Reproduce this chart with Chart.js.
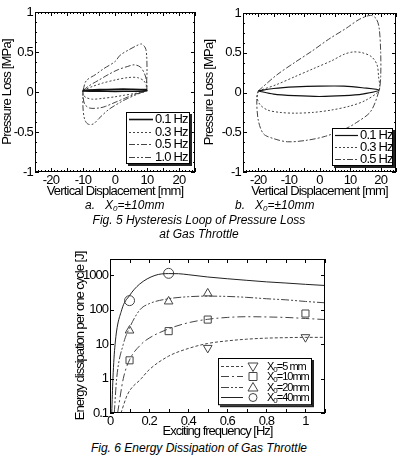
<!DOCTYPE html>
<html>
<head>
<meta charset="utf-8">
<script src="https://cdn.jsdelivr.net/npm/chart.js@4.4.1/dist/chart.umd.min.js"></script>
<style>
  body { margin: 0; width: 398px; height: 466px; background: #fff; position: relative; overflow: hidden; }
  canvas { position: absolute; }
  .cap { position: absolute; font: italic 12px "Liberation Sans", Arial, sans-serif; color: #000; white-space: nowrap; line-height: 14px; }
  .cap sub { font-size: 8px; vertical-align: -2px; line-height: 0; }
  .mid { left: 0; width: 398px; text-align: center; }
</style>
</head>
<body>
<canvas id="fig5a" width="199" height="200" style="left:0;top:0"></canvas>
<canvas id="fig5b" width="199" height="200" style="left:199px;top:0"></canvas>
<div class="cap" style="left:85px;top:198px">a.&nbsp;&nbsp;&nbsp;X<sub>0</sub>=±10mm</div>
<div class="cap" style="left:235px;top:198px">b.&nbsp;&nbsp;&nbsp;X<sub>0</sub>=±10mm</div>
<div class="cap mid" style="top:213px">Fig. 5 Hysteresis Loop of Pressure Loss</div>
<div class="cap mid" style="top:227px">at Gas Throttle</div>
<canvas id="fig6" width="330" height="200" style="left:40px;top:240px"></canvas>
<div class="cap mid" style="top:441px">Fig. 6 Energy Dissipation of Gas Throttle</div>
<script>
// ---- Fig. 5 a : X0 = +-10 mm ----
const aLabels = ['0.1 Hz', '0.3 Hz', '0.5 Hz', '1.0 Hz'];
const a01X = [-10, -5, 0, 5, 9.5, 10, 9.5, 5, 0, -5, -10, -10];
const a01Y = [0.02, 0.03, 0.035, 0.035, 0.03, 0.02, 0.012, 0.01, 0.008, 0.01, 0.012, 0.02];
const a03X = [-10, -7, -4, 0, 4, 7, 9, 10, 9.5, 6, 3, 0, -4, -7, -9, -10, -10];
const a03Y = [0.02, 0.07, 0.11, 0.15, 0.18, 0.18, 0.14, 0.06, 0.01, -0.02, -0.04, -0.06, -0.08, -0.09, -0.07, -0.03, 0.02];
const a05X = [-10, -8, -5, -2, 1, 4, 6, 8, 9.5, 10, 9.5, 6, 3, 0, -3, -5, -8, -9.5, -10, -10];
const a05Y = [0.02, 0.08, 0.15, 0.22, 0.28, 0.32, 0.34, 0.31, 0.2, 0.08, 0.01, -0.03, -0.08, -0.13, -0.18, -0.2, -0.2, -0.15, -0.05, 0.02];
const a10X = [-10, -9, -6, -3.6, 0, 1.6, 4, 6.8, 8.3, 9.5, 9.9, 10, 9.8, 9.5, 6.8, 4, 1.6, -2, -5, -6.8, -8.5, -9.5, -10, -10, -10];
const a10Y = [0.02, 0.14, 0.22, 0.29, 0.38, 0.46, 0.52, 0.58, 0.6, 0.55, 0.45, 0.25, 0.08, 0.02, -0.03, -0.08, -0.13, -0.22, -0.33, -0.4, -0.4, -0.34, -0.2, -0.05, 0.02];

// ---- Fig. 5 b ----
const bLabels = ['0.1 Hz', '0.3 Hz', '0.5 Hz'];
const b01X = [-20, -15, -8, 0, 8, 14, 19.5, 14, 8, 0, -8, -15, -20];
const b01Y = [0.02, 0.05, 0.07, 0.08, 0.08, 0.06, 0.03, -0.02, -0.04, -0.05, -0.04, -0.02, 0.02];
const b03X = [-20, -14, -8, -2, 4, 8, 11, 14, 17, 18.8, 19.3, 19.5, 15, 10, 4, -2, -8, -13, -17, -19.5, -20.5, -20];
const b03Y = [0.02, 0.1, 0.2, 0.3, 0.4, 0.48, 0.51, 0.5, 0.45, 0.35, 0.2, 0.03, -0.1, -0.17, -0.22, -0.25, -0.26, -0.25, -0.22, -0.15, -0.05, 0.02];
const b05X = [-20, -14, -8, -2.5, 3, 8.8, 13, 16.7, 18.5, 19.5, 20, 20, 19.5, 16.7, 12, 8.8, 2, -4, -10.4, -15, -18.3, -20, -20.5, -20];
const b05Y = [0.02, 0.22, 0.38, 0.52, 0.67, 0.81, 0.92, 0.97, 0.93, 0.81, 0.5, 0.2, 0.03, -0.24, -0.38, -0.45, -0.55, -0.6, -0.62, -0.58, -0.52, -0.35, -0.1, 0.02];

const fig5XTicks = [-20, -10, 0, 10, 20];
const fig5YTicks = [-1, -0.5, 0, 0.5, 1];

// ---- Fig. 6 : energy dissipation ----
const fig6Labels = ['5 mm', '10mm', '20mm', '40mm'];
const fit5X = [0.056, 0.09, 0.16, 0.2, 0.3, 0.4, 0.5, 0.6, 0.7, 0.8, 0.9, 1.0, 1.1];
const fit5Y = [0.1, 0.35, 1, 1.8, 4.5, 7.5, 10.5, 12.5, 14, 15, 15.5, 15.8, 15.8];
const fit10X = [0.039, 0.068, 0.1, 0.16, 0.2, 0.3, 0.4, 0.5, 0.6, 0.7, 0.8, 0.9, 1.0, 1.1];
const fit10Y = [0.1, 1, 3.5, 10, 15, 28, 42, 53, 60, 63, 62, 60, 56, 52];
const fit20X = [0.022, 0.034, 0.068, 0.1, 0.153, 0.2, 0.3, 0.4, 0.5, 0.6, 0.7, 0.8, 0.9, 1.0, 1.1];
const fit20Y = [0.1, 1, 10, 30, 100, 150, 210, 240, 250, 245, 230, 210, 195, 175, 160];
const fit40X = [0.009, 0.015, 0.026, 0.06, 0.1, 0.15, 0.23, 0.3, 0.35, 0.4, 0.5, 0.6, 0.7, 0.8, 0.9, 1.0, 1.1];
const fit40Y = [0.1, 1, 10, 100, 260, 550, 1000, 1130, 1120, 1050, 900, 800, 720, 650, 600, 550, 510];
const meas5X = [0.5, 1];
const meas5Y = [7.8, 16];
const meas10X = [0.1, 0.3, 0.5, 1];
const meas10Y = [3.4, 24, 52, 78];
const meas20X = [0.1, 0.3, 0.5];
const meas20Y = [25, 175, 300];
const meas40X = [0.1, 0.3];
const meas40Y = [185, 1150];
const fig6XTicks = [0, 0.2, 0.4, 0.6, 0.8, 1];
const fig6YTicks = [0.1, 1, 10, 100, 1000];

const FONT = '"Liberation Sans", Arial, sans-serif';
Chart.defaults.font.family = FONT;
Chart.defaults.color = '#000';

const pts = (xs, ys) => xs.map((x, i) => ({ x: x, y: ys[i] }));

function loop(label, xs, ys, dash, width, color) {
    return {
        label: label,
        data: pts(xs, ys),
        showLine: true,
        pointRadius: 0,
        borderColor: color,
        borderWidth: width,
        borderDash: dash,
        tension: 0.3,
        fill: false
    };
}

// the scanned figure uses a condensed face, so squeeze the letters a bit
const tightText = {
    id: 'tightText',
    beforeUpdate(chart, args, o) { chart.ctx.letterSpacing = o.spacing; },
    beforeDraw(chart, args, o) { chart.ctx.letterSpacing = o.spacing; }
};

// frame + inward ticks on all four sides
const frameTicks = {
    id: 'frameTicks',
    afterDraw(chart, args, o) {
        const { ctx, chartArea: a } = chart;
        const xs = chart.scales.x, ys = chart.scales.y;
        ctx.save();
        ctx.strokeStyle = '#000';
        ctx.lineWidth = 1;
        ctx.strokeRect(Math.round(a.left) + 0.5, Math.round(a.top) + 0.5, Math.round(a.width) - 1, Math.round(a.height) - 1);
        const steps = (scale, step) => {
            if (!step) return scale.ticks.map(t => t.value);
            const out = [];
            for (let i = Math.ceil(scale.min / step - 1e-9); i * step <= scale.max + 1e-9; i++) out.push(i * step);
            return out;
        };
        const xTick = (v, len) => {
            const p = Math.round(xs.getPixelForValue(v)) + 0.5;
            ctx.beginPath();
            ctx.moveTo(p, a.bottom); ctx.lineTo(p, a.bottom - len);
            ctx.moveTo(p, a.top); ctx.lineTo(p, a.top + len);
            ctx.stroke();
        };
        const yTick = (v, len) => {
            const p = Math.round(ys.getPixelForValue(v)) + 0.5;
            ctx.beginPath();
            ctx.moveTo(a.left, p); ctx.lineTo(a.left + len, p);
            ctx.moveTo(a.right, p); ctx.lineTo(a.right - len, p);
            ctx.stroke();
        };
        if (o.xMinor) steps(xs, o.xMinor).forEach(v => xTick(v, 2));
        if (o.yMinor) steps(ys, o.yMinor).forEach(v => yTick(v, 2));
        steps(xs, o.xMajor).forEach(v => xTick(v, 4));
        steps(ys, o.yMajor).forEach(v => yTick(v, 4));
        ctx.restore();
    }
};

// legend box with shadow, drawn inside the plot
const boxLegend = {
    id: 'boxLegend',
    afterDraw(chart, args, o) {
        const { ctx, chartArea: a } = chart;
        const sets = chart.data.datasets;
        const rows = o.rows || sets.map((d, i) => [i, null]);
        const w = o.width, h = o.rowHeight * rows.length + o.padY * 2;
        const x = Math.round(a.right - o.right - w), y = Math.round(a.bottom - o.bottom - h);
        ctx.save();
        ctx.fillStyle = '#222';
        ctx.fillRect(x + 2, y + 2, w, h);
        ctx.fillStyle = '#fff';
        ctx.fillRect(x, y, w, h);
        ctx.strokeStyle = '#000';
        ctx.lineWidth = 1;
        ctx.strokeRect(x + 0.5, y + 0.5, w - 1, h - 1);
        rows.forEach((r, i) => {
            const cy = Math.round(y + o.padY + o.rowHeight * (i + 0.5)) + 0.5;
            const ds = sets[r[0]];
            ctx.setLineDash(ds.borderDash || []);
            ctx.strokeStyle = ds.borderColor;
            ctx.lineWidth = ds.borderWidth;
            ctx.beginPath();
            ctx.moveTo(x + 3, cy);
            ctx.lineTo(x + o.lineLen, cy);
            ctx.stroke();
            ctx.setLineDash([]);
            let tx = x + o.lineLen + 2;
            if (r[1] !== null) {
                const m = sets[r[1]];
                const mx = x + o.markX;
                ctx.strokeStyle = m.borderColor;
                ctx.fillStyle = '#fff';
                ctx.lineWidth = 1;
                ctx.beginPath();
                if (m.pointStyle === 'circle') {
                    ctx.arc(mx, cy, 4, 0, Math.PI * 2);
                } else if (m.pointStyle === 'rect') {
                    ctx.rect(mx - 4, cy - 4, 8, 8);
                } else {
                    const s = m.pointRotation === 180 ? -1 : 1;
                    ctx.moveTo(mx, cy - 5 * s);
                    ctx.lineTo(mx + 5, cy + 3.5 * s);
                    ctx.lineTo(mx - 5, cy + 3.5 * s);
                    ctx.closePath();
                }
                ctx.fill();
                ctx.stroke();
                tx = x + o.textX;
            }
            ctx.fillStyle = '#000';
            ctx.textBaseline = 'middle';
            ctx.font = o.fontSize + 'px ' + FONT;
            if (o.subscript) {
                ctx.fillText('X', tx, cy);
                tx += ctx.measureText('X').width;
                ctx.font = (o.fontSize - 3) + 'px ' + FONT;
                ctx.fillText('0', tx, cy + 3);
                tx += ctx.measureText('0').width;
                ctx.font = o.fontSize + 'px ' + FONT;
                ctx.fillText('=' + ds.label, tx, cy);
            } else {
                ctx.fillText(ds.label, tx, cy);
            }
        });
        ctx.restore();
    }
};

function fig5Options(yWidth, yTitlePad, legend) {
    return {
        responsive: false,
        animation: false,
        layout: { padding: legend.padding },
        plugins: {
            legend: { display: false },
            tooltip: { enabled: false },
            tightText: { spacing: '-0.8px' },
            frameTicks: { xMinor: 1, xMajor: 5, yMinor: 0.125, yMajor: 0.5 },
            boxLegend: legend.box
        },
        scales: {
            x: {
                type: 'linear', min: -25, max: 25,
                afterBuildTicks: s => { s.ticks = fig5XTicks.map(v => ({ value: v })); },
                afterFit: s => { s.height = 28; },
                grid: { display: false, drawTicks: false },
                border: { display: false },
                ticks: { font: { size: 13 }, padding: 1, maxRotation: 0, callback: v => String(v) },
                title: { display: true, text: 'Vertical Displacement [mm]', font: { size: 13 }, padding: { top: 0, bottom: 1 } }
            },
            y: {
                type: 'linear', min: -1, max: 1,
                afterBuildTicks: s => { s.ticks = fig5YTicks.map(v => ({ value: v })); },
                afterFit: s => { s.width = yWidth; },
                grid: { display: false, drawTicks: false },
                border: { display: false },
                ticks: { font: { size: 13 }, padding: 2, callback: v => String(v) },
                title: { display: true, text: 'Pressure Loss [MPa]', font: { size: 13 }, padding: { top: yTitlePad, bottom: 0 } }
            }
        }
    };
}

new Chart(document.getElementById('fig5a'), {
    type: 'scatter',
    data: {
        datasets: [
            loop(aLabels[0], a01X, a01Y, [], 1.6, '#111'),
            loop(aLabels[1], a03X, a03Y, [2, 2], 1, '#444'),
            loop(aLabels[2], a05X, a05Y, [6, 2, 2, 2], 1, '#444'),
            loop(aLabels[3], a10X, a10Y, [6, 2, 2, 2, 2, 2], 1, '#444')
        ]
    },
    options: fig5Options(35, 0, {
        padding: { top: 12, right: 4, left: 0, bottom: 0 },
        box: { width: 64, rowHeight: 12.5, padY: 1, right: 5, bottom: 8, lineLen: 27, fontSize: 13 }
    }),
    plugins: [tightText, frameTicks, boxLegend]
});

new Chart(document.getElementById('fig5b'), {
    type: 'scatter',
    data: {
        datasets: [
            loop(bLabels[0], b01X, b01Y, [], 1.2, '#111'),
            loop(bLabels[1], b03X, b03Y, [2, 2], 1, '#444'),
            loop(bLabels[2], b05X, b05Y, [6, 2, 2, 2], 1, '#444')
        ]
    },
    options: fig5Options(44, 3, {
        padding: { top: 13, right: 2, left: 0, bottom: 0 },
        box: { width: 61, rowHeight: 12, padY: 1, right: 3, bottom: 6, lineLen: 26, fontSize: 13 }
    }),
    plugins: [tightText, frameTicks, boxLegend]
});

function fitLine(label, xs, ys, dash, color) {
    return {
        label: label,
        data: pts(xs, ys),
        showLine: true,
        pointRadius: 0,
        borderColor: color,
        borderWidth: 1,
        borderDash: dash,
        cubicInterpolationMode: 'monotone',
        fill: false
    };
}

function marks(xs, ys, style, rot) {
    return {
        label: '',
        data: pts(xs, ys),
        showLine: false,
        pointStyle: style,
        pointRotation: rot,
        pointRadius: 5,
        pointBorderWidth: 1,
        borderColor: '#444',
        backgroundColor: 'rgba(255,255,255,0)'
    };
}

new Chart(document.getElementById('fig6'), {
    type: 'scatter',
    data: {
        datasets: [
            fitLine(fig6Labels[0], fit5X, fit5Y, [3, 2], '#444'),
            fitLine(fig6Labels[1], fit10X, fit10Y, [8, 3, 2, 3], '#444'),
            fitLine(fig6Labels[2], fit20X, fit20Y, [8, 2, 2, 2, 2, 2], '#444'),
            fitLine(fig6Labels[3], fit40X, fit40Y, [], '#222'),
            marks(meas5X, meas5Y, 'triangle', 180),
            marks(meas10X, meas10Y, 'rect', 0),
            marks(meas20X, meas20Y, 'triangle', 0),
            marks(meas40X, meas40Y, 'circle', 0)
        ]
    },
    options: {
        responsive: false,
        animation: false,
        layout: { padding: { left: 32, top: 19, right: 45, bottom: 0 } },
        plugins: {
            legend: { display: false },
            tooltip: { enabled: false },
            tightText: { spacing: '-1px' },
            frameTicks: { xMajor: 0.1 },
            boxLegend: {
                rows: [[0, 4], [1, 5], [2, 6], [3, 7]],
                width: 94, rowHeight: 10.3, padY: 3, right: 13, bottom: 8,
                lineLen: 25, markX: 35, textX: 49, fontSize: 11, subscript: true
            }
        },
        scales: {
            x: {
                type: 'linear', min: 0, max: 1.1,
                afterBuildTicks: s => { s.ticks = fig6XTicks.map(v => ({ value: v })); },
                afterFit: s => { s.height = 27; },
                grid: { display: false, drawTicks: false },
                border: { display: false },
                ticks: { font: { size: 13 }, padding: 1, maxRotation: 0, callback: v => String(v) },
                title: { display: true, text: 'Exciting frequency [Hz]', font: { size: 13 }, padding: { top: 0, bottom: 1 } }
            },
            y: {
                type: 'logarithmic', min: 0.1, max: 3000,
                afterBuildTicks: s => { s.ticks = fig6YTicks.map(v => ({ value: v })); },
                afterFit: s => { s.width = 38; },
                grid: { display: false, drawTicks: false },
                border: { display: false },
                ticks: { font: { size: 13 }, padding: 2, callback: v => String(v) },
                title: { display: true, text: 'Energy dissipation per one cycle [J]', font: { size: 13 }, padding: { top: 1, bottom: 0 } }
            }
        }
    },
    plugins: [tightText, frameTicks, boxLegend]
});
</script>
</body>
</html>
